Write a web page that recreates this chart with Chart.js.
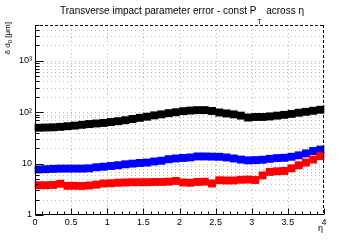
<!DOCTYPE html>
<html>
<head>
<meta charset="utf-8">
<script src="https://cdn.jsdelivr.net/npm/chart.js@4/dist/chart.umd.min.js"></script>
<style>
  html, body { margin: 0; padding: 0; background: #fff; }
  #wrap { width: 360px; height: 240px; }
</style>
</head>
<body>
<div id="wrap"><canvas id="myChart" width="360" height="240"></canvas></div>
<script>
// eta bin centres
var etaValues = [
  0.05, 0.15, 0.25, 0.35, 0.45, 0.55, 0.65, 0.75, 0.85, 0.95,
  1.05, 1.15, 1.25, 1.35, 1.45, 1.55, 1.65, 1.75, 1.85, 1.95,
  2.05, 2.15, 2.25, 2.35, 2.45, 2.55, 2.65, 2.75, 2.85, 2.95,
  3.05, 3.15, 3.25, 3.35, 3.45, 3.55, 3.65, 3.75, 3.85, 3.95,
];

// delta d0 [um], one list per momentum
var blackValues = [
  50, 50.5, 51, 52, 53.5, 55, 57, 59, 60.5, 62,
  64.5, 67, 70, 74, 78, 82, 87, 91, 96, 100,
  105, 108, 110, 110, 106, 99, 95, 91, 86, 79,
  81, 81, 83, 86, 89, 93, 98, 102, 107, 112,
];
var blueValues = [
  7.7, 7.8, 7.9, 8.0, 8.0, 8.0, 8.0, 8.1, 8.5, 8.7,
  9.0, 9.3, 9.7, 10.0, 10.3, 10.5, 11.0, 11.4, 12.2, 12.6,
  12.9, 13.2, 13.8, 13.8, 13.7, 13.6, 13.2, 12.6, 12.0, 11.6,
  11.7, 11.9, 12.4, 12.8, 13.0, 13.6, 14.5, 15.8, 17.6, 18.8,
];
var redValues = [
  3.8, 3.8, 3.85, 4.05, 3.7, 3.7, 3.68, 3.75, 3.9, 4.1,
  4.15, 4.25, 4.3, 4.35, 4.35, 4.35, 4.4, 4.4, 4.45, 4.6,
  4.3, 4.25, 4.4, 4.45, 4.1, 4.75, 4.7, 4.7, 4.85, 4.9,
  4.8, 5.9, 6.9, 7.1, 7.2, 8.1, 9.3, 10.5, 12.0, 14.0,
];

var xTicks = [0, 0.5, 1, 1.5, 2, 2.5, 3, 3.5, 4];
var yTicks = [1, 10, 100, 1000];
var yTickLabels = ["1", "10", "10\u00B2", "10\u00B3"];

function points(ys) {
  return etaValues.map(function (x, i) { return { x: x, y: ys[i] }; });
}

var FONT = "'Liberation Sans', Arial, sans-serif";

// ROOT-like frame: dotted grid, inside ticks, dashed top/right border, titles
var rootFrame = {
  id: "rootFrame",
  beforeDatasetsDraw: function (chart) {
    var ctx = chart.ctx, a = chart.chartArea;
    var xs = chart.scales.x, ys = chart.scales.y;
    ctx.save();
    ctx.strokeStyle = "#bcbcbc";
    ctx.lineWidth = 1;
    ctx.setLineDash([1, 3]);
    xTicks.forEach(function (v) {
      var px = Math.round(xs.getPixelForValue(v)) + 0.5;
      if (v <= 0 || v >= 4) return;
      ctx.beginPath(); ctx.moveTo(px, a.top); ctx.lineTo(px, a.bottom); ctx.stroke();
    });
    for (var d = 1; d <= 1000; d *= 10) {
      for (var k = 1; k <= 9; k++) {
        var v = k * d;
        if (v <= ys.min || v >= ys.max) continue;
        var py = Math.round(ys.getPixelForValue(v)) + 0.5;
        ctx.beginPath(); ctx.moveTo(a.left, py); ctx.lineTo(a.right, py); ctx.stroke();
      }
    }
    ctx.restore();
  },
  afterDraw: function (chart) {
    var ctx = chart.ctx, a = chart.chartArea;
    var xs = chart.scales.x, ys = chart.scales.y;
    ctx.save();
    ctx.strokeStyle = "#000";
    ctx.lineWidth = 1;
    // dashed top / right
    ctx.setLineDash([3, 2]);
    ctx.beginPath();
    ctx.moveTo(a.left, Math.round(a.top) + 0.5); ctx.lineTo(a.right, Math.round(a.top) + 0.5);
    ctx.moveTo(Math.round(a.right) - 0.5, a.top); ctx.lineTo(Math.round(a.right) - 0.5, a.bottom);
    ctx.stroke();
    ctx.setLineDash([]);
    // solid axes
    var bx = Math.round(a.bottom) - 0.5, lx = Math.round(a.left) + 0.5;
    ctx.beginPath();
    ctx.moveTo(a.left, bx); ctx.lineTo(a.right, bx);
    ctx.moveTo(lx, a.top); ctx.lineTo(lx, a.bottom);
    // x ticks every 0.1, major every 0.5
    for (var i = 0; i <= 40; i++) {
      var px = Math.round(xs.getPixelForValue(i / 10)) + 0.5;
      var len = i % 5 === 0 ? 6 : 3;
      ctx.moveTo(px, bx); ctx.lineTo(px, bx - len);
    }
    // y log ticks
    for (var d = 1; d <= 1000; d *= 10) {
      for (var k = 1; k <= 9; k++) {
        var v = k * d;
        if (v < ys.min || v > ys.max) continue;
        var py = Math.round(ys.getPixelForValue(v)) + 0.5;
        var l = k === 1 ? 8 : 4;
        ctx.moveTo(lx, py); ctx.lineTo(lx + l, py);
      }
    }
    ctx.stroke();

    // title with subscript T
    ctx.fillStyle = "#000";
    ctx.textBaseline = "alphabetic";
    ctx.textAlign = "left";
    var t1 = "Transverse impact parameter error - const P";
    var t2 = "T";
    var t3 = "  across \u03B7";
    ctx.font = "10px " + FONT;
    var w1 = ctx.measureText(t1).width;
    var w3 = ctx.measureText(t3).width;
    ctx.font = "7px " + FONT;
    var w2 = ctx.measureText(t2).width;
    var x0 = 182 - (w1 + w2 + w3) / 2;
    ctx.font = "10px " + FONT;
    ctx.fillText(t1, x0, 14);
    ctx.font = "7px " + FONT;
    ctx.fillText(t2, x0 + w1 + 1, 24);
    ctx.font = "10px " + FONT;
    ctx.fillText(t3, x0 + w1 + w2, 14);

    // x axis title
    ctx.font = "9px " + FONT;
    ctx.textAlign = "right";
    ctx.fillText("\u03B7", a.right - 1, 231);

    // y axis title, rotated, aligned to the top
    ctx.translate(10, a.top - 3);
    ctx.rotate(-Math.PI / 2);
    ctx.textAlign = "right";
    ctx.font = "8px " + FONT;
    var s1 = "\u03B4 d", s2 = "0", s3 = " [\u03BCm]";
    var ws3 = ctx.measureText(s3).width;
    ctx.fillText(s3, 0, 0);
    ctx.font = "6px " + FONT;
    var ws2 = ctx.measureText(s2).width;
    ctx.fillText(s2, -ws3, 2);
    ctx.font = "8px " + FONT;
    ctx.fillText(s1, -ws3 - ws2, 0);
    ctx.restore();
  },
};

function series(color, ys) {
  return {
    data: points(ys),
    showLine: false,
    pointStyle: "rect",
    pointRadius: 5.6,
    pointHoverRadius: 5.6,
    pointBorderWidth: 0,
    backgroundColor: color,
    borderColor: color,
  };
}

new Chart(document.getElementById("myChart"), {
  type: "scatter",
  data: {
    datasets: [
      series("#ff0000", redValues),
      series("#0000ff", blueValues),
      series("#000000", blackValues),
    ],
  },
  plugins: [rootFrame],
  options: {
    responsive: false,
    animation: false,
    events: [],
    clip: false,
    layout: { padding: { left: 0, right: 36, top: 25, bottom: 0 } },
    plugins: {
      legend: { display: false },
      title: { display: false },
      tooltip: { enabled: false },
    },
    scales: {
      x: {
        type: "linear",
        min: 0,
        max: 4,
        grid: { display: false, drawTicks: false },
        border: { display: false },
        afterBuildTicks: function (s) {
          s.ticks = xTicks.map(function (v) { return { value: v }; });
        },
        afterFit: function (s) { s.height = 25; },
        ticks: {
          padding: 2,
          color: "#000",
          maxRotation: 0,
          autoSkip: false,
          font: { family: FONT, size: 9 },
          callback: function (v) { return String(v); },
        },
      },
      y: {
        type: "logarithmic",
        min: 1,
        max: 5000,
        grid: { display: false, drawTicks: false },
        border: { display: false },
        afterBuildTicks: function (s) {
          s.ticks = yTicks.map(function (v) { return { value: v }; });
        },
        afterFit: function (s) { s.width = 35; },
        ticks: {
          padding: 3,
          color: "#000",
          autoSkip: false,
          font: { family: FONT, size: 9 },
          callback: function (v) {
            var i = yTicks.indexOf(v);
            return i >= 0 ? yTickLabels[i] : "";
          },
        },
      },
    },
  },
});
</script>
</body>
</html>
